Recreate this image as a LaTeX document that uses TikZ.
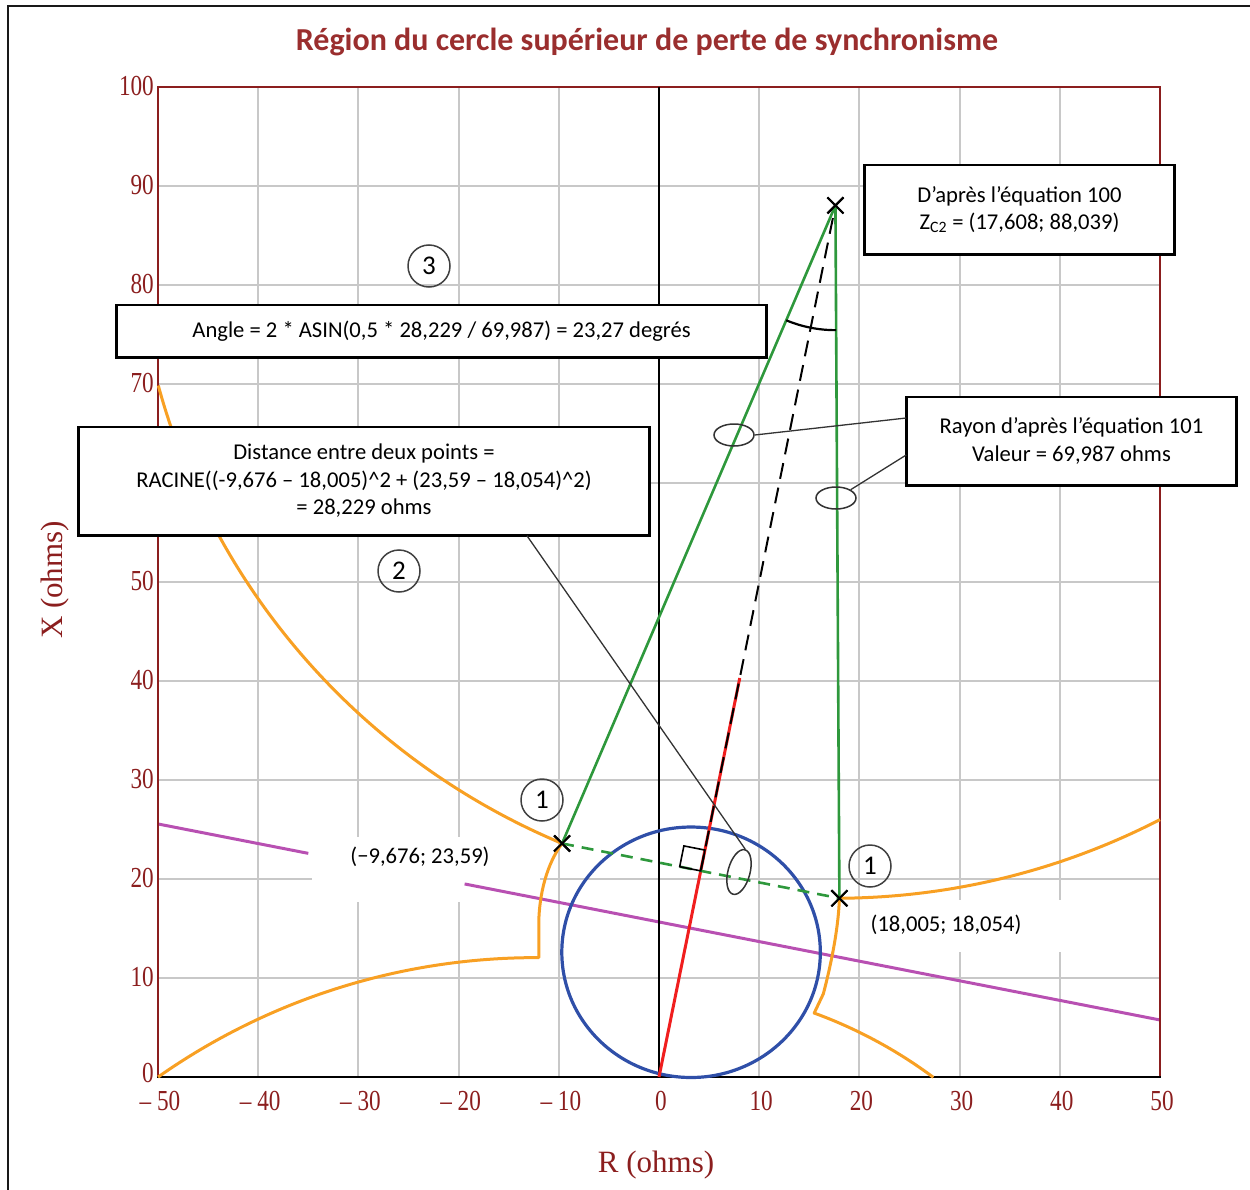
\documentclass[tikz,border=0pt]{standalone}
\usepackage{fontspec}
\setmainfont{Carlito}
\newfontfamily\axisfont{Liberation Serif}
\usetikzlibrary{shapes.geometric,shapes.misc,calc}
\definecolor{gridgray}{HTML}{C8C8C8}
\definecolor{axisred}{HTML}{8B1E1E}
\definecolor{titlered}{HTML}{9A2E2E}
\definecolor{orangec}{HTML}{F8A023}
\definecolor{magc}{HTML}{B850B2}
\definecolor{bluec}{HTML}{2F4FA8}
\definecolor{greenc}{HTML}{2E983C}
\definecolor{redc}{HTML}{F01E1E}
\newcommand{\ticktxt}[1]{\scalebox{0.8}[1]{#1}}
\begin{document}
\begin{tikzpicture}[x=1pt,y=-1pt,
  gridline/.style={gridgray,line width=2pt},
  orangeline/.style={orangec,line width=3pt,line join=round},
  magline/.style={magc,line width=3pt},
  greenline/.style={greenc,line width=2.6pt},
  xmark/.style={cross out,draw=black,line width=2pt,minimum size=14pt,inner sep=0pt},
  ticklab/.style={text=axisred,font=\axisfont\fontsize{29}{29}\selectfont,inner sep=0pt},
  axtitle/.style={text=axisred,font=\axisfont\fontsize{31}{31}\selectfont,inner sep=0pt},
  callbox/.style={draw=black,line width=1.6pt,fill=white,align=center,inner sep=0pt,
    font=\fontsize{22.6}{27.5}\selectfont},
  coordlab/.style={font=\fontsize{22.6}{26}\selectfont,inner sep=0pt},
  circnum/.style={circle,draw=black!75,line width=1.5pt,minimum size=42pt,inner sep=0pt,
    font=\fontsize{27}{27}\selectfont},
  marker/.style={ellipse,draw=black!80,line width=1.5pt,inner sep=0pt},
  calloutline/.style={black!80,line width=1.3pt}]
\useasboundingbox (0,0) rectangle (1250,1190);
% outer frame
\draw[line width=2pt,black!90] (8,1190) -- (8,6) -- (1250,6);
% title
\node[text=titlered,font=\bfseries\fontsize{32}{32}\selectfont,inner sep=0pt] (title) at (647,42)
  {Région du cercle supérieur de perte de synchronisme};
% grid
\begin{scope}[shift={(659pt,-1077pt)},x=10.02pt,y=9.9pt]
  \foreach \r in {-40,-30,...,40} \draw[gridline] (\r,0) -- (\r,100);
  \foreach \q in {10,20,...,90} \draw[gridline] (-50,\q) -- (50,\q);
\end{scope}
% white areas behind coordinate labels
\fill[white] (312,837) rectangle (540,902);
\fill[white] (866,900) rectangle (1100,952);
\begin{scope}[shift={(659pt,-1077pt)},x=10.02pt,y=9.9pt]
  % magenta line
  \draw[magline] (-50,25.56) -- (-35,22.59);
  \draw[magline] (-19.4,19.50) -- (50,5.76);
  % frame and axes
  \draw[axisred,line width=2.2pt] (-50,0) -- (-50,100) -- (50,100) -- (50,0);
  \draw[black,line width=1.8pt] (0,0) -- (0,100);
  \draw[black,line width=2.6pt] (-50.1,0) -- (50.1,0);
  % points
  \coordinate (O) at (0,0);
  \coordinate (M) at (4.1645,20.822);
  \coordinate (Rend) at (8.06,40.3);
  \node[xmark] (Zc) at (17.608,88.039) {};
  \node[xmark] (A) at (-9.676,23.59) {};
  \node[xmark] (B) at (18.005,18.054) {};
  % blue circle
  \draw[bluec,line width=3.2pt] (3.2,12.6) ellipse [x radius=12.9,y radius=12.65];
  % orange curves
  \draw[orangeline] (Zc.center) ++(195.07:69.987) arc[start angle=195.07,end angle=247.05,radius=69.987];
  \draw[orangeline] (Zc.center) ++(270.33:69.987) arc[start angle=270.33,end angle=297.57,radius=69.987];
  \draw[orangeline] (-12.28,-52.94) ++(125.47:65) arc[start angle=125.47,end angle=89.75,radius=65]
    -- (-12.0,15.6) .. controls (-11.95,18.5) and (-11.2,21.5) .. (A.center);
  \draw[orangeline] (-0.62,-37.16) ++(52.98:46.5) arc[start angle=52.98,end angle=69.73,radius=46.5]
    -- (16.4,8.4) .. controls (17.2,11.5) and (17.9,15) .. (B.center);
  % red line and dashed continuation
  \draw[redc,line width=3pt] (O) -- (Rend);
  \draw[black,line width=2pt,dash pattern=on 16pt off 9pt] (M) -- (Zc.center);
  % green lines
  \draw[greenline] (A.center) -- (Zc.center);
  \draw[greenline] (Zc.center) -- (B.center);
  \draw[greenline,dash pattern=on 12pt off 8pt] (A.center) -- (B.center);
  % right angle mark
  \draw[black,line width=1.6pt] (M) -- ++(-2.1,0.42) -- ++(0.42,2.1) -- ++(2.1,-0.42) -- cycle;
  % angle arc
  \draw[black,line width=2.2pt] (Zc.center) ++(247.05:12.6) arc[start angle=247.05,end angle=270.33,radius=12.6];
\end{scope}
% redraw crosses on top
\node[xmark] (Zcx) at (Zc) {};
\node[xmark] (Ax) at (A) {};
\node[xmark] (Bx) at (B) {};
% tick labels (60 is hidden by a box in the reference)
\node[ticklab,anchor=east] (yt0) at (154,1073) {\ticktxt{0}};
\foreach \k/\t in {1/10,2/20,3/30,4/40,5/50,7/70,8/80,9/90,10/100}
  \node[ticklab,anchor=east] (yt\k) at (154,{1076-99*\k}) {\ticktxt{\t}};
\foreach \k/\t in {-5/{– 50},-4/{– 40},-3/{– 30},-2/{– 20},-1/{– 10},0/0,1/10,2/20,3/30,4/40,5/50}
  \node[ticklab] (xt\k) at ({661+100.2*\k},1101) {\ticktxt{\t}};
\node[axtitle] (rtitle) at (656,1165) {R (ohms)};
\node[axtitle,rotate=90] (xtitle) at (55,580) {X (ohms)};
% coordinate labels
\node[coordlab] (la) at (420,857) {(−9,676; 23,59)};
\node[coordlab] (lb) at (946,925) {(18,005; 18,054)};
% circled numbers
\node[circnum] (c3) at (429,266) {3};
\node[circnum] (c2) at (399,571) {2};
\node[circnum] (c1a) at (542,800) {1};
\node[circnum] (c1b) at (870,866) {1};
% markers
\node[marker,minimum width=40pt,minimum height=22pt] (e1) at (734,435) {};
\node[marker,minimum width=40pt,minimum height=22pt] (e2) at (836,498) {};
\node[marker,minimum width=22pt,minimum height=46pt,rotate=-15] (e3) at (739,872) {};
% boxes
\node[callbox,minimum width=649pt,minimum height=52pt] (angle) at (441.5,331)
  {Angle = 2 * ASIN(0,5 * 28,229 / 69,987) = 23,27 degrés};
\node[callbox,minimum width=570pt,minimum height=108pt] (dist) at (364,481)
  {Distance entre deux points =\\RACINE((-9,676 – 18,005)\textasciicircum 2 + (23,59 – 18,054)\textasciicircum 2)\\= 28,229 ohms};
\node[callbox,minimum width=309pt,minimum height=89pt] (zc2) at (1019.5,209.5)
  {D’après l’équation 100\\Z\textsubscript{C2} = (17,608; 88,039)};
\node[callbox,minimum width=329pt,minimum height=88pt] (rayon) at (1071.5,441)
  {Rayon d’après l’équation 101\\Valeur = 69,987 ohms};
\foreach \n in {angle,dist,zc2,rayon}
  \draw[black,line width=2.8pt] (\n.north west) -- (\n.south west) -- (\n.south east) -- (\n.north east);
% callout lines
\draw[calloutline] ([yshift=23pt]rayon.west) -- (e1.east);
\draw[calloutline] ([yshift=-14pt]rayon.west) -- (e2.north east);
\draw[calloutline] ([xshift=163pt]dist.south) -- (e3.north);
\end{tikzpicture}
\end{document}
